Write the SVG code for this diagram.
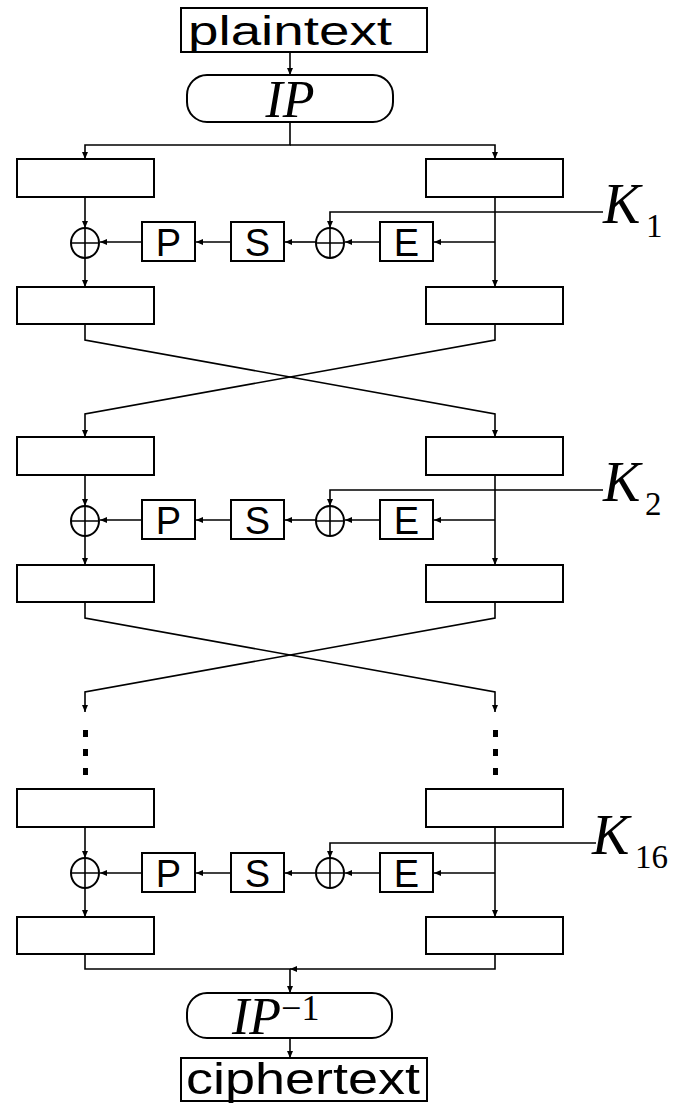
<svg xmlns="http://www.w3.org/2000/svg" width="684" height="1104" viewBox="0 0 684 1104">
<defs>
<style>
.box{fill:#fff;stroke:#000;stroke-width:2}
.ln{fill:none;stroke:#000;stroke-width:1.6}
.lbl{font-family:"Liberation Sans",Arial,sans-serif;font-size:38px;fill:#000;text-anchor:middle}
.math{font-family:"Liberation Serif","Times New Roman",serif;font-style:italic;fill:#000}
.sub{font-family:"Liberation Serif","Times New Roman",serif;font-style:normal;fill:#000}
.big{font-family:"Liberation Sans",Arial,sans-serif;fill:#000}
</style>
<marker id="ah" markerWidth="7" markerHeight="6" refX="7" refY="3" orient="auto" markerUnits="userSpaceOnUse">
<path d="M0,0 L7,3 L0,6 Z" fill="#000"/>
</marker>
<g id="xor">
<ellipse cx="0" cy="0" rx="14" ry="15" fill="#fff" stroke="#000" stroke-width="2"/>
<path d="M-14,0 H14 M0,-15 V15" stroke="#000" stroke-width="1.6"/>
</g>
</defs>
<rect width="684" height="1104" fill="#fff"/>

<g id="connectors" class="ln" marker-end="url(#ah)">
<path d="M290,52 V75"/>
<path d="M290,122 V145 H85 V159"/>
<path d="M290,145 H495 V159"/>
<path d="M85,197 V228"/>
<path d="M85,258 V287"/>
<path d="M495,197 V287"/>
<path d="M495,242 H434"/>
<path d="M380,242 H345"/>
<path d="M316,242 H285"/>
<path d="M231,242 H196"/>
<path d="M142,242 H100"/>
<path d="M603,212 H330 V228"/>
<path d="M85,324 V340 L495,414 V437"/>
<path d="M495,324 V340 L85,414 V437"/>
<path d="M85,475 V506"/>
<path d="M85,536 V565"/>
<path d="M495,475 V565"/>
<path d="M495,520 H434"/>
<path d="M380,520 H345"/>
<path d="M316,520 H285"/>
<path d="M231,520 H196"/>
<path d="M142,520 H100"/>
<path d="M603,490 H330 V506"/>
<path d="M85,602 V618 L495,692 V712"/>
<path d="M495,602 V618 L85,692 V712"/>
<path d="M85,827 V858"/>
<path d="M85,888 V917"/>
<path d="M495,827 V917"/>
<path d="M495,873 H434"/>
<path d="M380,873 H345"/>
<path d="M316,873 H285"/>
<path d="M231,873 H196"/>
<path d="M142,873 H100"/>
<path d="M596,843 H330 V858"/>
<path d="M85,954 V969 H290 V993"/>
<path d="M495,954 V969 H290"/>
<path d="M290,1038 V1058"/>
</g>

<g id="dots" fill="#000">
<rect x="83" y="730" width="5" height="7"/>
<rect x="83" y="749" width="5" height="7"/>
<rect x="83" y="768" width="5" height="7"/>
<rect x="493" y="730" width="5" height="7"/>
<rect x="493" y="749" width="5" height="7"/>
<rect x="493" y="768" width="5" height="7"/>
</g>

<g id="plaintext">
<rect class="box" x="181" y="8" width="246" height="44"/>
<text class="big" x="188" y="45" font-size="40" textLength="204" lengthAdjust="spacingAndGlyphs">plaintext</text>
</g>
<g id="ip">
<rect class="box" x="187" y="75" width="206" height="47" rx="20" ry="20"/>
<text class="math" x="290" y="117" font-size="52" text-anchor="middle">IP</text>
</g>

<g id="r1-L"><rect class="box" x="17" y="159" width="137" height="38"/></g>
<g id="r1-R"><rect class="box" x="426" y="159" width="137" height="38"/></g>
<g id="r1-xorL"><use href="#xor" x="85" y="243"/></g>
<g id="r1-P"><rect class="box" x="142" y="222" width="53" height="39"/><text class="lbl" x="168.5" y="256">P</text></g>
<g id="r1-S"><rect class="box" x="231" y="222" width="53" height="39"/><text class="lbl" x="257.5" y="256">S</text></g>
<g id="r1-xorR"><use href="#xor" x="330" y="243"/></g>
<g id="r1-E"><rect class="box" x="380" y="222" width="53" height="39"/><text class="lbl" x="406.5" y="256">E</text></g>
<g id="r1-L2"><rect class="box" x="17" y="287" width="137" height="37"/></g>
<g id="r1-R2"><rect class="box" x="426" y="287" width="137" height="37"/></g>
<g id="r1-K"><text class="math" x="603" y="223" font-size="56">K</text><text class="sub" x="646" y="237" font-size="33">1</text></g>

<g id="r2-L"><rect class="box" x="17" y="437" width="137" height="38"/></g>
<g id="r2-R"><rect class="box" x="426" y="437" width="137" height="38"/></g>
<g id="r2-xorL"><use href="#xor" x="85" y="521"/></g>
<g id="r2-P"><rect class="box" x="142" y="500" width="53" height="39"/><text class="lbl" x="168.5" y="534">P</text></g>
<g id="r2-S"><rect class="box" x="231" y="500" width="53" height="39"/><text class="lbl" x="257.5" y="534">S</text></g>
<g id="r2-xorR"><use href="#xor" x="330" y="521"/></g>
<g id="r2-E"><rect class="box" x="380" y="500" width="53" height="39"/><text class="lbl" x="406.5" y="534">E</text></g>
<g id="r2-L2"><rect class="box" x="17" y="565" width="137" height="37"/></g>
<g id="r2-R2"><rect class="box" x="426" y="565" width="137" height="37"/></g>
<g id="r2-K"><text class="math" x="603" y="501" font-size="56">K</text><text class="sub" x="645" y="515" font-size="33">2</text></g>

<g id="r16-L"><rect class="box" x="17" y="789" width="137" height="38"/></g>
<g id="r16-R"><rect class="box" x="426" y="789" width="137" height="38"/></g>
<g id="r16-xorL"><use href="#xor" x="85" y="873"/></g>
<g id="r16-P"><rect class="box" x="142" y="853" width="53" height="39"/><text class="lbl" x="168.5" y="887">P</text></g>
<g id="r16-S"><rect class="box" x="231" y="853" width="53" height="39"/><text class="lbl" x="257.5" y="887">S</text></g>
<g id="r16-xorR"><use href="#xor" x="330" y="873"/></g>
<g id="r16-E"><rect class="box" x="380" y="853" width="53" height="39"/><text class="lbl" x="406.5" y="887">E</text></g>
<g id="r16-L2"><rect class="box" x="17" y="917" width="137" height="37"/></g>
<g id="r16-R2"><rect class="box" x="426" y="917" width="137" height="37"/></g>
<g id="r16-K"><text class="math" x="592" y="854" font-size="56">K</text><text class="sub" x="635" y="868" font-size="33">16</text></g>

<g id="ipinv">
<rect class="box" x="187" y="993" width="205" height="45" rx="20" ry="20"/>
<text class="math" x="232" y="1034" font-size="52">IP<tspan class="sub" font-size="36" dy="-14">−1</tspan></text>
</g>
<g id="ciphertext">
<rect class="box" x="181" y="1058" width="246" height="43"/>
<text class="big" x="186" y="1094" font-size="44" textLength="234" lengthAdjust="spacingAndGlyphs">ciphertext</text>
</g>
</svg>
